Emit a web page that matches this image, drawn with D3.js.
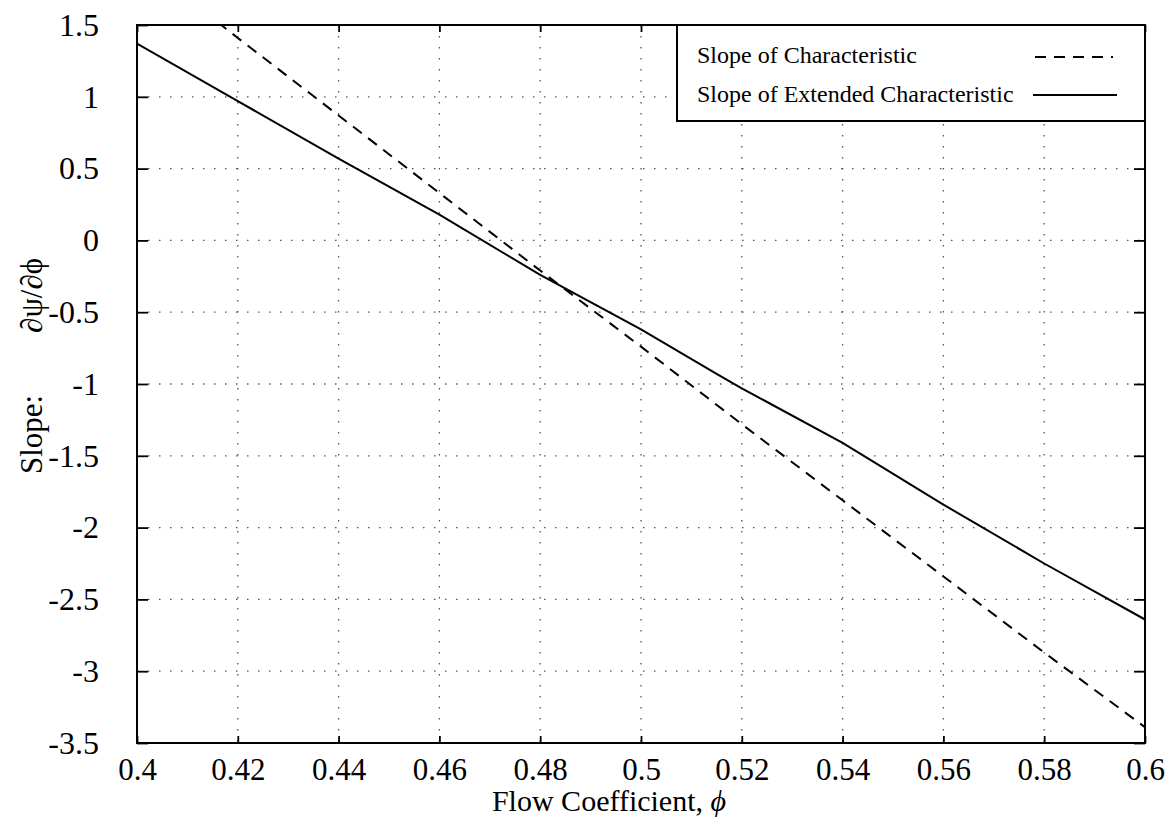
<!DOCTYPE html>
<html>
<head>
<meta charset="utf-8">
<script src="https://cdn.jsdelivr.net/npm/d3@7"></script>
<style>
body { margin: 0; background: #fff; }
svg { display: block; }
svg text { font-family: "Liberation Serif", "Times New Roman", serif; fill: #000; }
</style>
</head>
<body>
<svg id="chart" width="1173" height="818"></svg>
<script>
// ---- data ----
const xTicks = [0.4, 0.42, 0.44, 0.46, 0.48, 0.5, 0.52, 0.54, 0.56, 0.58, 0.6];
const xTickLabels = ["0.4", "0.42", "0.44", "0.46", "0.48", "0.5", "0.52", "0.54", "0.56", "0.58", "0.6"];
const yTicks = [1.5, 1, 0.5, 0, -0.5, -1, -1.5, -2, -2.5, -3, -3.5];
const yTickLabels = ["1.5", "1", "0.5", "0", "-0.5", "-1", "-1.5", "-2", "-2.5", "-3", "-3.5"];

const phiChar = [0.416, 0.42, 0.44, 0.46, 0.48, 0.50, 0.52, 0.54, 0.56, 0.58, 0.60];
const slopeChar = [1.52, 1.41, 0.87, 0.33, -0.21, -0.74, -1.28, -1.81, -2.34, -2.87, -3.39];

const phiExt = [0.40, 0.42, 0.44, 0.46, 0.48, 0.50, 0.515, 0.52, 0.54, 0.56, 0.58, 0.60];
const slopeExt = [1.37, 0.97, 0.57, 0.18, -0.24, -0.62, -0.93, -1.03, -1.41, -1.84, -2.25, -2.64];

const seriesNames = ["Slope of Characteristic", "Slope of Extended Characteristic"];
const xTitle = "Flow Coefficient, ";
const yTitleA = "Slope:";
const yTitleB = "\u2202\u03C8/\u2202\u03D5";

// ---- layout ----
const svg = d3.select("#chart");
const m = { left: 137, right: 1145, top: 25, bottom: 743 };
const x = d3.scaleLinear().domain([0.4, 0.6]).range([m.left, m.right]);
const y = d3.scaleLinear().domain([-3.5, 1.5]).range([m.bottom, m.top]);

svg.append("defs").append("clipPath").attr("id", "clip")
  .append("rect").attr("x", m.left).attr("y", m.top)
  .attr("width", m.right - m.left).attr("height", m.bottom - m.top);

// grid
const grid = svg.append("g");
grid.selectAll(".gx").data(xTicks.slice(1, -1)).join("line")
  .attr("x1", d => x(d)).attr("x2", d => x(d))
  .attr("y1", m.top).attr("y2", m.bottom)
  .attr("stroke", "#555").attr("stroke-width", 1.3).attr("stroke-dasharray", "1.5,9.5");
grid.selectAll(".gy").data(yTicks.slice(1, -1)).join("line")
  .attr("y1", d => y(d)).attr("y2", d => y(d))
  .attr("x1", m.left).attr("x2", m.right)
  .attr("stroke", "#555").attr("stroke-width", 1.3).attr("stroke-dasharray", "1.5,9.5");

// axes (ticks inward)
svg.append("g").attr("transform", `translate(0,${m.bottom})`)
  .call(d3.axisBottom(x).tickValues(xTicks).tickSize(-7).tickFormat((d, i) => xTickLabels[i]))
  .call(g => g.attr("font-family", null))
  .call(g => g.select(".domain").remove())
  .call(g => g.selectAll("line").attr("stroke", "#000").attr("stroke-width", 1.8))
  .call(g => g.selectAll("text").attr("font-size", 31).attr("fill", "#000").attr("y", 37).attr("dy", 0));
svg.append("g").attr("transform", `translate(0,${m.top})`)
  .call(d3.axisTop(x).tickValues(xTicks).tickSize(-7).tickFormat(""))
  .call(g => g.select(".domain").remove())
  .call(g => g.selectAll("line").attr("stroke", "#000").attr("stroke-width", 1.8));
svg.append("g").attr("transform", `translate(${m.left},0)`)
  .call(d3.axisLeft(y).tickValues(yTicks).tickSize(-11).tickFormat((d, i) => yTickLabels[i]).tickPadding(38))
  .call(g => g.attr("font-family", null))
  .call(g => g.select(".domain").remove())
  .call(g => g.selectAll("line").attr("stroke", "#000").attr("stroke-width", 1.8))
  .call(g => g.selectAll("text").attr("font-size", 32).attr("fill", "#000"));
svg.append("g").attr("transform", `translate(${m.right},0)`)
  .call(d3.axisRight(y).tickValues(yTicks).tickSize(-11).tickFormat(""))
  .call(g => g.select(".domain").remove())
  .call(g => g.selectAll("line").attr("stroke", "#000").attr("stroke-width", 1.8));

// frame
svg.append("rect").attr("x", m.left).attr("y", m.top)
  .attr("width", m.right - m.left).attr("height", m.bottom - m.top)
  .attr("fill", "none").attr("stroke", "#000").attr("stroke-width", 2);

// lines
const line = d3.line().x(d => x(d[0])).y(d => y(d[1]));
const plot = svg.append("g").attr("clip-path", "url(#clip)");
plot.append("path").datum(d3.zip(phiChar, slopeChar)).attr("d", line)
  .attr("fill", "none").attr("stroke", "#000").attr("stroke-width", 2).attr("stroke-dasharray", "11,8");
plot.append("path").datum(d3.zip(phiExt, slopeExt)).attr("d", line)
  .attr("fill", "none").attr("stroke", "#000").attr("stroke-width", 2);

// legend
const lg = svg.append("g");
lg.append("rect").attr("x", 677).attr("y", m.top).attr("width", m.right - 677).attr("height", 96)
  .attr("fill", "#fff").attr("stroke", "#000").attr("stroke-width", 2);
lg.append("text").attr("x", 697).attr("y", 63).attr("font-size", 24).text(seriesNames[0]);
lg.append("text").attr("x", 697).attr("y", 102).attr("font-size", 24).text(seriesNames[1]);
lg.append("line").attr("x1", 1035).attr("x2", 1113).attr("y1", 57).attr("y2", 57)
  .attr("stroke", "#000").attr("stroke-width", 2).attr("stroke-dasharray", "11,8");
lg.append("line").attr("x1", 1033).attr("x2", 1117).attr("y1", 95).attr("y2", 95)
  .attr("stroke", "#000").attr("stroke-width", 2);

// axis titles
const xt = svg.append("text").attr("x", 609).attr("y", 811).attr("text-anchor", "middle")
  .attr("font-size", 30);
xt.append("tspan").text(xTitle);
xt.append("tspan").attr("font-style", "italic").text("\u03D5");

const yt = svg.append("text").attr("transform", "translate(42,366) rotate(-90)")
  .attr("text-anchor", "middle").attr("font-size", 31);
yt.append("tspan").text(yTitleA);
yt.append("tspan").attr("dx", 62).text(yTitleB);
</script>
</body>
</html>
